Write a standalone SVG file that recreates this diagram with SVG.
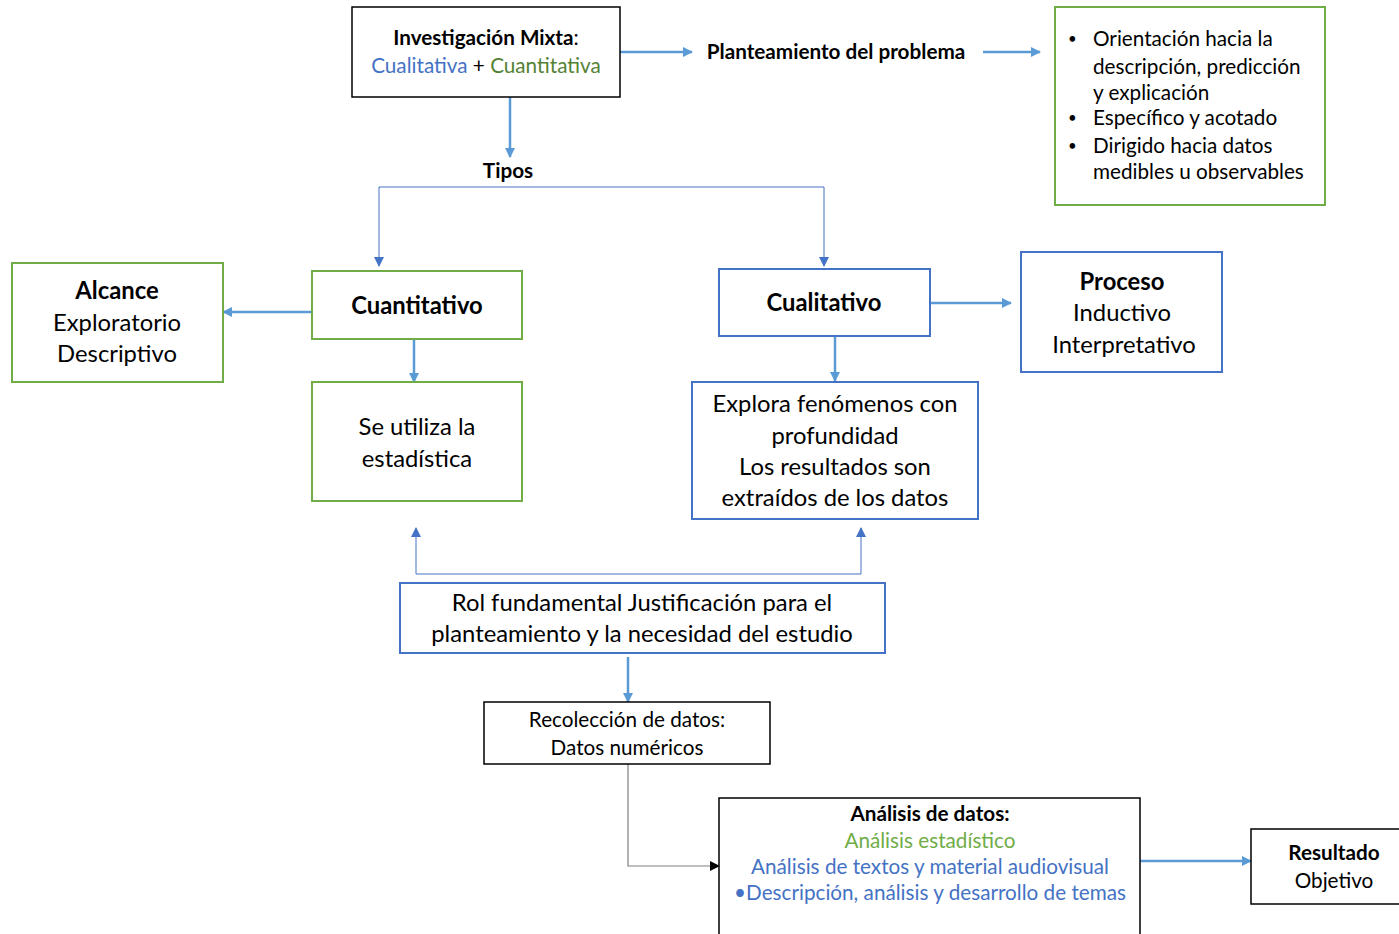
<svg xmlns="http://www.w3.org/2000/svg" width="1399" height="934" viewBox="0 0 1399 934">
<defs>
<marker id="ah" markerWidth="10" markerHeight="10" refX="9" refY="5" orient="auto" markerUnits="userSpaceOnUse"><path d="M0,0 L10,5 L0,10 z" fill="#5B9BD5"/></marker>
<marker id="ah2" markerWidth="10" markerHeight="10" refX="9" refY="5" orient="auto" markerUnits="userSpaceOnUse"><path d="M0,0 L10,5 L0,10 z" fill="#4472C4"/></marker>
<marker id="ahk" markerWidth="10" markerHeight="10" refX="9" refY="5" orient="auto" markerUnits="userSpaceOnUse"><path d="M0,0 L10,5 L0,10 z" fill="#000"/></marker>
</defs>
<style>
text{font-family:Lato,"Liberation Sans",sans-serif;fill:#000}
.c{text-anchor:middle}
.b{font-weight:bold}
.bk{fill:#fff;stroke:#000;stroke-width:1.5}
.gr{fill:#fff;stroke:#70AD47;stroke-width:2}
.bl{fill:#fff;stroke:#4472C4;stroke-width:2}
.arr{stroke:#5B9BD5;stroke-width:2.5;fill:none;marker-end:url(#ah)}
.thin{stroke:#4472C4;stroke-width:1;fill:none;marker-end:url(#ah2)}
.f19{font-size:20.7px}
.f22{font-size:23.8px}
.bul{font-size:15px}
.tb{fill:#4472C4}
.tg{fill:#548235}
.tg2{fill:#70AD47}
</style>
<rect width="1399" height="934" fill="#fff"/>
<g id="connectors">
<line class="arr" x1="620" y1="52" x2="692" y2="52"/>
<line class="arr" x1="983" y1="52" x2="1040" y2="52"/>
<line class="arr" x1="510" y1="97" x2="510" y2="157"/>
<path class="thin" d="M379,187 L379,266"/>
<path class="thin" d="M379,187 L824,187 L824,266"/>
<line class="arr" x1="312" y1="312" x2="223" y2="312"/>
<line class="arr" x1="414" y1="340" x2="414" y2="382"/>
<line class="arr" x1="930" y1="303" x2="1011" y2="303"/>
<line class="arr" x1="835" y1="337" x2="835" y2="381"/>
<path class="thin" d="M416,574 L416,528"/>
<path class="thin" d="M416,574 L861,574 L861,528"/>
<line class="arr" x1="628" y1="657" x2="628" y2="702"/>
<path d="M628,764 L628,866 L719,866" fill="none" stroke="#7f7f7f" stroke-width="1.2" marker-end="url(#ahk)"/>
<line class="arr" x1="1140" y1="861" x2="1251" y2="861"/>
</g>
<g id="mixta">
<rect class="bk" x="352" y="7" width="268" height="90"/>
<text class="c f19" x="486" y="45"><tspan class="b">Investigación Mixta</tspan>:</text>
<text class="c f19" x="486" y="73"><tspan class="tb">Cualitativa</tspan> + <tspan class="tg">Cuantitativa</tspan></text>
</g>
<g id="planteamiento">
<text class="c f19 b" x="836" y="59">Planteamiento del problema</text>
</g>
<g id="orientacion">
<rect class="gr" x="1055" y="7" width="270" height="198"/>
<g class="f19">
<text class="bul" x="1068" y="44">•</text>
<text x="1093" y="46">Orientación hacia la</text>
<text x="1093" y="74">descripción, predicción</text>
<text x="1093" y="100">y explicación</text>
<text class="bul" x="1068" y="123">•</text>
<text x="1093" y="125">Específico y acotado</text>
<text class="bul" x="1068" y="151">•</text>
<text x="1093" y="153">Dirigido hacia datos</text>
<text x="1093" y="179">medibles u observables</text>
</g>
</g>
<g id="tipos">
<text class="c f19 b" x="508" y="178">Tipos</text>
</g>
<g id="cuantitativo">
<rect class="gr" x="312" y="271" width="210" height="68"/>
<text class="c f22 b" x="417" y="314">Cuantitativo</text>
</g>
<g id="alcance">
<rect class="gr" x="12" y="263" width="211" height="119"/>
<text class="c f22 b" x="117" y="299">Alcance</text>
<text class="c f22" x="117" y="331">Exploratorio</text>
<text class="c f22" x="117" y="362">Descriptivo</text>
</g>
<g id="estadistica">
<rect class="gr" x="312" y="382" width="210" height="119"/>
<text class="c f22" x="417" y="435">Se utiliza la</text>
<text class="c f22" x="417" y="467">estadística</text>
</g>
<g id="cualitativo">
<rect class="bl" x="719" y="269" width="211" height="67"/>
<text class="c f22 b" x="824" y="311">Cualitativo</text>
</g>
<g id="proceso">
<rect class="bl" x="1021" y="252" width="201" height="120"/>
<text class="c f22 b" x="1122" y="290">Proceso</text>
<text class="c f22" x="1122" y="321">Inductivo</text>
<text class="c f22" x="1124" y="353">Interpretativo</text>
</g>
<g id="explora">
<rect class="bl" x="692" y="382" width="286" height="137"/>
<text class="c f22" x="835" y="412">Explora fenómenos con</text>
<text class="c f22" x="835" y="444">profundidad</text>
<text class="c f22" x="835" y="475">Los resultados son</text>
<text class="c f22" x="835" y="506">extraídos de los datos</text>
</g>
<g id="rol">
<rect class="bl" x="400" y="583" width="485" height="70"/>
<text class="c f22" x="642" y="611">Rol fundamental Justificación para el</text>
<text class="c f22" x="642" y="642">planteamiento y la necesidad del estudio</text>
</g>
<g id="recoleccion">
<rect class="bk" x="484" y="702" width="286" height="62"/>
<text class="c f19" x="627" y="727">Recolección de datos:</text>
<text class="c f19" x="627" y="755">Datos numéricos</text>
</g>
<g id="analisis">
<rect class="bk" x="719" y="798" width="421" height="140"/>
<text class="c f19 b" x="930" y="821">Análisis de datos:</text>
<text class="c f19 tg2" x="930" y="848">Análisis estadístico</text>
<text class="c f19 tb" x="930" y="874">Análisis de textos y material audiovisual</text>
<text class="c f19 tb" x="930" y="900">•Descripción, análisis y desarrollo de temas</text>
</g>
<g id="resultado">
<rect class="bk" x="1251" y="829" width="152" height="75"/>
<text class="c f19 b" x="1334" y="860">Resultado</text>
<text class="c f19" x="1334" y="888">Objetivo</text>
</g>
</svg>
